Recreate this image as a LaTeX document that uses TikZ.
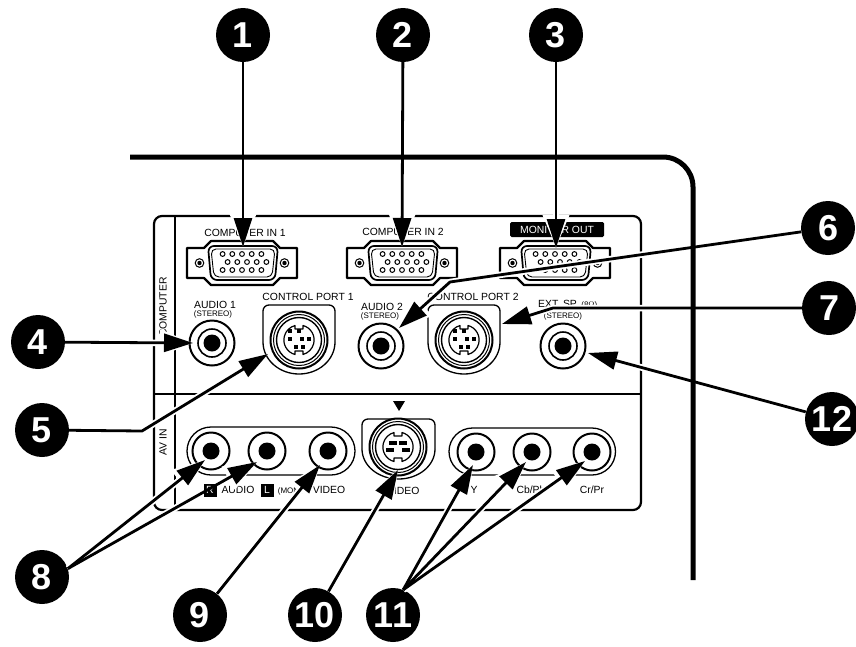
\documentclass[tikz,border=0pt]{standalone}
\usepackage{fontspec}
\setmainfont{Liberation Sans}
\usetikzlibrary{arrows.meta}

\tikzset{
	num/.style={circle,fill=black,text=white,minimum size=54pt,inner sep=0pt,font=\fontsize{36}{36}\selectfont\bfseries},
	lbl/.style={inner sep=0pt,font=\fontsize{10.4}{11}\selectfont},
	tiny/.style={inner sep=0pt,font=\fontsize{8}{9}\selectfont},
	halo/.style={draw=white,line width=6.5pt,-{Triangle[length=33pt,width=25pt]}},
	callout/.style={draw=black,line width=2.8pt,-{Triangle[length=29pt,width=18pt]}},
}

% d-sub socket, centre at #1,#2
\newcommand{\vgaport}[2]{
	\begin{scope}[shift={(#1,#2)}]
		\draw[line width=2.2pt,line join=round] (-55,-15) -- (-38,-15) -- (-31,-22) -- (31,-22) -- (38,-15) -- (55,-15)
			-- (55,15) -- (38,15) -- (31,22) -- (-31,22) -- (-38,15) -- (-55,15) -- cycle;
		\draw[line width=1.7pt,rounded corners=6pt] (-34,-17) -- (36,-17) -- (33,17) -- (-31,17) -- cycle;
		\draw[line width=0.9pt,rounded corners=5pt] (-31,-14) -- (33,-14) -- (30,14) -- (-28,14) -- cycle;
		\foreach \i in {-2,...,2} {
			\draw[line width=1pt] (\i*9.7,-9) circle[radius=2.4pt];
			\draw[line width=1pt] (\i*9.7+5,-1) circle[radius=2.4pt];
			\draw[line width=1pt] (\i*9.7,7) circle[radius=2.4pt];
		}
		\foreach \i in {-1,1} {
			\draw[line width=1pt] (\i*42.5,0) circle[radius=4.3pt];
			\fill (\i*42.5,0) circle[radius=2.2pt];
		}
	\end{scope}
}

% round jack, centre at #1,#2, ring radius #3, dot radius #4
\newcommand{\rcaport}[4]{
	\draw[line width=2pt,fill=white] (#1,#2) circle[radius=#3 pt];
	\fill (#1,#2) circle[radius=#4 pt];
}

% din socket rings and body, centre at #1,#2
\newcommand{\dinport}[2]{
	\begin{scope}[shift={(#1,#2)}]
		\draw[line width=2pt,fill=white] (0,0) circle[radius=28.5pt];
		\draw[line width=1pt] (0,0) circle[radius=25.5pt];
		\draw[line width=1.4pt] (0,0) circle[radius=22.5pt];
		\draw[line width=1.2pt,line join=round] (4,-14.5) arc[start angle=75,end angle=-75,radius=15pt]
			-- (4,11) -- (-4,11) -- (-4,14.5) arc[start angle=255,end angle=105,radius=15pt]
			-- (-4,-11) -- (4,-11) -- cycle;
	\end{scope}
}

% all callout lines, #1 is the style
\newcommand{\calloutlines}[1]{
	\path[every edge/.append style={#1}]
	(n1) edge (t1)
	(n2) edge (t2)
	(n3) edge (t3)
	(n4) edge (t4)
	(n12) edge (t12)
	(n8.18) edge (t8a)
	(n8.18) edge (t8b)
	(n9) edge (t9)
	(n10) edge (t10)
	(n11.68) edge (t11a)
	(n11.68) edge (t11b)
	(n11.68) edge (t11c);
	\draw[#1,line join=round] (n5) -- (k5) -- (t5);
	\draw[#1,line join=round] (n6) -- (k6) -- (t6);
	\draw[#1,line join=round] (n7) -- (k7) -- (t7);
}

\begin{document}
\begin{tikzpicture}[x=1pt,y=-1pt]
	\useasboundingbox (0,0) rectangle (856,646);
	% arrow ends
	\coordinate (t1) at (243,247);
	\coordinate (t2) at (402,247);
	\coordinate (t3) at (556,248);
	\coordinate (t4) at (193,343);
	\coordinate (t5) at (268,354);
	\coordinate (k5) at (142,431);
	\coordinate (t6) at (399,328);
	\coordinate (k6) at (450,282);
	\coordinate (t7) at (502,324);
	\coordinate (k7) at (553,308);
	\coordinate (t8a) at (205,460);
	\coordinate (t8b) at (257,462);
	\coordinate (t9) at (320,465);
	\coordinate (t10) at (398,470);
	\coordinate (t11a) at (473,465);
	\coordinate (t11b) at (526,462);
	\coordinate (t11c) at (585,461);
	\coordinate (t12) at (588,353);
	% panel
	\draw[line width=2.2pt,rounded corners=8pt] (154,216) rectangle (641,510);
	\draw[line width=2pt] (175,216) -- (175,510);
	\draw[line width=2.2pt] (154,394) -- (641,394);
	% computer row
	\vgaport{242}{263}
	\vgaport{402}{263}
	\vgaport{555}{263}
	\rcaport{212}{343}{22.5}{8.5}
	\draw[line width=1.6pt] (212,343) circle[radius=14pt];
	\rcaport{381}{346}{22.5}{8.5}
	\draw[line width=1.6pt] (381,346) circle[radius=14pt];
	\rcaport{563}{346}{22.5}{8.5}
	\draw[line width=1.6pt] (563,346) circle[radius=14pt];
	% din housings
	\foreach \x in {299,464} {
		\draw[line width=1.3pt,rounded corners=6pt] (\x-36,342) -- (\x-36,305) -- (\x+36,305) -- (\x+36,342);
		\draw[line width=1.3pt] (\x+36,342) arc[start angle=0,end angle=-180,x radius=36pt,y radius=32pt];
	}
	\draw[line width=1.3pt,rounded corners=6pt] (362,449) -- (362,419) -- (435,419) -- (435,449);
	\draw[line width=1.3pt] (435,449) arc[start angle=0,end angle=-180,x radius=36.5pt,y radius=30pt];
	\dinport{299}{340}
	\dinport{464}{340}
	\dinport{398}{447}
	% din pins
	\foreach \x in {299,464} {
		\foreach \a/\b in {-9/-9,0/-9,-9/-1,3/-1,10/-1,-3/7,4/7} {
			\fill (\x+\a-2,340+\b-2) rectangle ++(4,4);
		}
	}
	\foreach \a/\b in {-5/-4,5/-4,-8/3,8/3} {
		\fill (398+\a-4,447+\b-1.8) rectangle ++(8,3.6);
	}
	\fill (393,401) -- (405,401) -- (399,411) -- cycle;
	% av row
	\draw[line width=1.3pt] (187,451) arc[start angle=180,end angle=90,radius=24pt] -- (331,427)
		arc[start angle=90,end angle=-90,radius=24pt] -- (211,475) arc[start angle=-90,end angle=-180,radius=24pt];
	\draw[line width=1.3pt] (449,451.5) arc[start angle=180,end angle=90,radius=23.5pt] -- (592,428)
		arc[start angle=90,end angle=-90,radius=23.5pt] -- (472.5,475) arc[start angle=-90,end angle=-180,radius=23.5pt];
	\rcaport{211}{451}{18.5}{8.5}
	\rcaport{267}{451}{18.5}{8.5}
	\rcaport{328}{451}{18.5}{8.5}
	\rcaport{476}{452}{18.5}{8.5}
	\rcaport{532}{452}{18.5}{8.5}
	\rcaport{592}{452}{18.5}{8.5}
	% labels
	\node[lbl] (in1) at (245,233) {COMPUTER IN 1};
	\node[lbl] (in2) at (403,232) {COMPUTER IN 2};
	\node[lbl,fill=black,text=white,rounded corners=1.5pt,minimum width=94pt,minimum height=15pt] (out) at (557,229.5) {MONITOR OUT};
	\node[lbl] (aud1) at (215,305) {AUDIO 1};
	\node[tiny] (st1) at (213,314.5) {(STEREO)};
	\node[lbl] (port1) at (308,297) {CONTROL PORT 1};
	\node[lbl] (aud2) at (382,307) {AUDIO 2};
	\node[tiny] (st2) at (380,316) {(STEREO)};
	\node[lbl] (port2) at (473,297) {CONTROL PORT 2};
	\node[lbl,anchor=west] (ext) at (538,304.5) {EXT. SP. {\fontsize{8}{9}\selectfont(8$\Omega$)}};
	\node[tiny] (st3) at (563,316) {(STEREO)};
	\node[lbl,rotate=90] (comp) at (163,307) {COMPUTER};
	\node[lbl,rotate=90] (avin) at (163,442) {AV IN};
	\node[lbl] (audio) at (238,490) {AUDIO};
	\node[tiny] (mono) at (293,491) {(MONO)};
	\node[lbl] (video) at (329,490) {VIDEO};
	\node[lbl] (svideo) at (398,491) {S-VIDEO};
	\node[lbl] (y) at (474,490) {Y};
	\node[lbl] (cb) at (531,490) {Cb/Pb};
	\node[lbl] (cr) at (592,490) {Cr/Pr};
	% numbers
	\node[num] (n1) at (243,35) {1};
	\node[num] (n2) at (403,35) {2};
	\node[num] (n3) at (556,35) {3};
	\node[num] (n4) at (38,342) {4};
	\node[num] (n5) at (42,430) {5};
	\node[num] (n6) at (828,228) {6};
	\node[num] (n7) at (829,308) {7};
	\node[num] (n8) at (42,577) {8};
	\node[num] (n9) at (200,615) {9};
	\node[num] (n10) at (315,615) {10};
	\node[num] (n11) at (393,615) {11};
	\node[num] (n12) at (832,419) {12};
	% white round the arrows
	\calloutlines{halo}
	% housing edge and boxes that stay whole
	\draw[line width=5pt,rounded corners=30pt] (130,157) -- (693,157) -- (693,580);
	\node[lbl,fill=black,text=white,minimum size=13pt] (boxr) at (210,490) {R};
	\node[lbl,fill=black,text=white,minimum size=13pt] (boxl) at (267,490) {L};
	% arrows
	\calloutlines{callout}
\end{tikzpicture}
\end{document}
